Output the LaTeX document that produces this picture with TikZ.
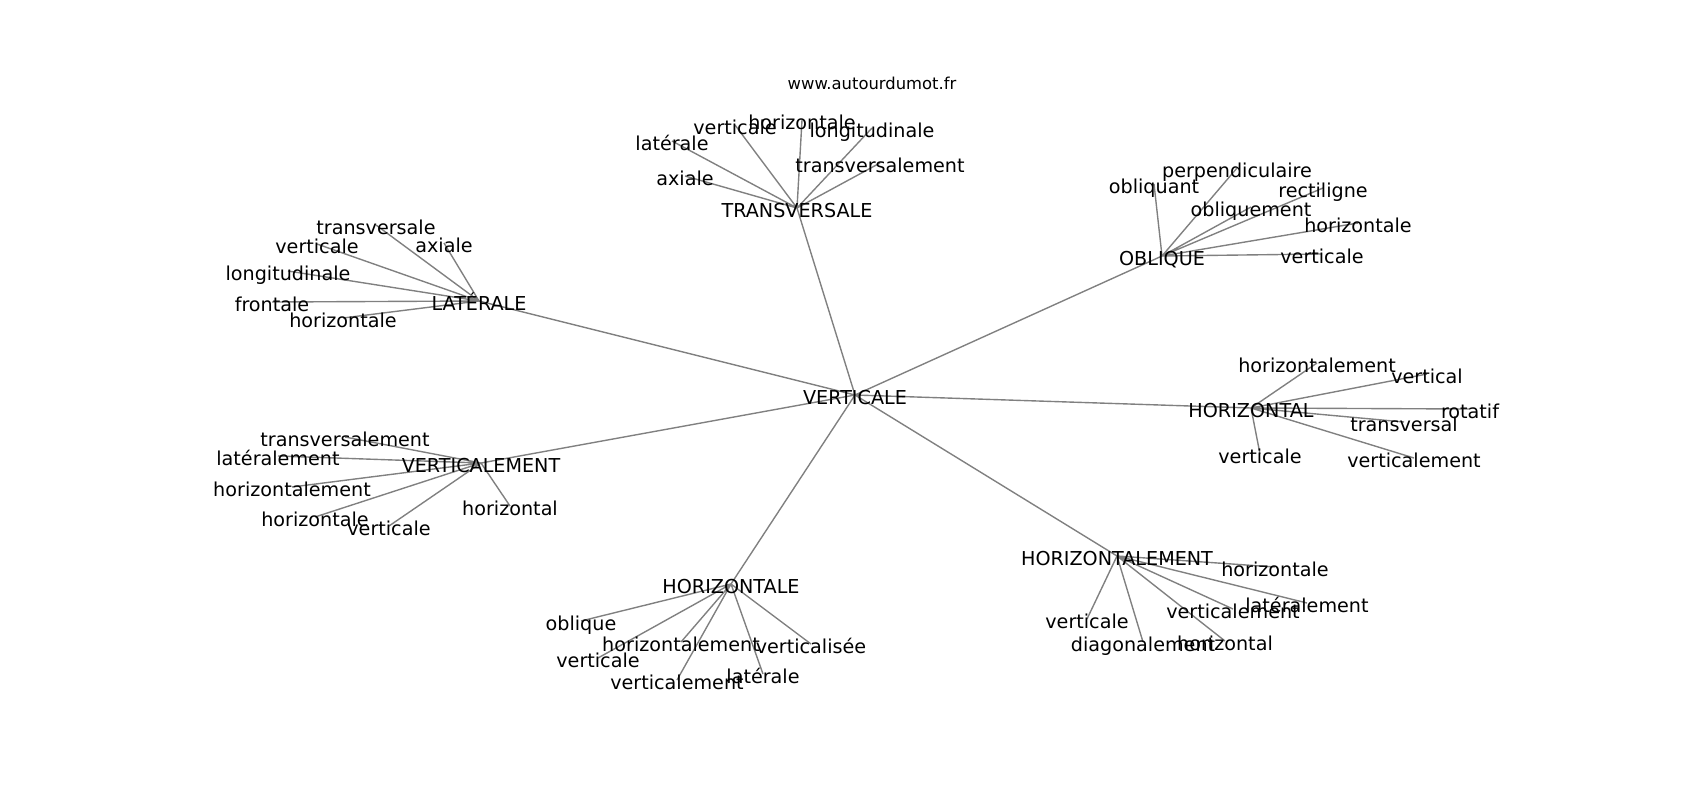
\documentclass[tikz,border=0pt]{standalone}
\usepackage{fontspec}
\setmainfont{DejaVu Sans}
\usetikzlibrary{backgrounds}

\begin{document}
\begin{tikzpicture}[x=0.72pt,y=-0.72pt,
    word/.style={inner sep=0pt,text height=1.3em,text depth=0pt,font=\fontsize{13.8}{16}\selectfont},
    link/.style={draw=gray,line width=1pt}]
\useasboundingbox (0,0) rectangle (1700,800);
\node (site) at (872,83) [inner sep=0pt,font=\fontsize{11.8}{14}\selectfont] {www.autourdumot.fr};
% hubs
\node[word] (v) at (855,395) {VERTICALE};
\node[word] (tr) at (797,208) {TRANSVERSALE};
\node[word] (lat) at (479,301) {LATÉRALE};
\node[word] (obl) at (1162,256) {OBLIQUE};
\node[word] (hzl) at (1251,408) {HORIZONTAL};
\node[word] (vtm) at (481,463) {VERTICALEMENT};
\node[word] (hze) at (731,584) {HORIZONTALE};
\node[word] (hzm) at (1117,556) {HORIZONTALEMENT};
% TRANSVERSALE
\node[word] (tr1) at (735,125) {verticale};
\node[word] (tr2) at (802,120) {horizontale};
\node[word] (tr3) at (872,128) {longitudinale};
\node[word] (tr4) at (672,141) {latérale};
\node[word] (tr5) at (685,176) {axiale};
\node[word] (tr6) at (880,163) {transversalement};
% LATÉRALE
\node[word] (lat1) at (376,225) {transversale};
\node[word] (lat2) at (317,244) {verticale};
\node[word] (lat3) at (444,243) {axiale};
\node[word] (lat4) at (288,271) {longitudinale};
\node[word] (lat5) at (272,302) {frontale};
\node[word] (lat6) at (343,318) {horizontale};
% OBLIQUE
\node[word] (obl1) at (1237,168) {perpendiculaire};
\node[word] (obl2) at (1154,184) {obliquant};
\node[word] (obl3) at (1251,207) {obliquement};
\node[word] (obl4) at (1323,188) {rectiligne};
\node[word] (obl5) at (1358,223) {horizontale};
\node[word] (obl6) at (1322,254) {verticale};
% HORIZONTAL
\node[word] (hzl1) at (1317,363) {horizontalement};
\node[word] (hzl2) at (1427,374) {vertical};
\node[word] (hzl3) at (1470,409) {rotatif};
\node[word] (hzl4) at (1404,422) {transversal};
\node[word] (hzl5) at (1260,454) {verticale};
\node[word] (hzl6) at (1414,458) {verticalement};
% VERTICALEMENT
\node[word] (vtm1) at (345,437) {transversalement};
\node[word] (vtm2) at (278,456) {latéralement};
\node[word] (vtm3) at (292,487) {horizontalement};
\node[word] (vtm4) at (510,506) {horizontal};
\node[word] (vtm5) at (315,517) {horizontale};
\node[word] (vtm6) at (389,526) {verticale};
% HORIZONTALE
\node[word] (hze1) at (581,621) {oblique};
\node[word] (hze2) at (681,642) {horizontalement};
\node[word] (hze3) at (811,644) {verticalisée};
\node[word] (hze4) at (598,658) {verticale};
\node[word] (hze5) at (763,674) {latérale};
\node[word] (hze6) at (677,680) {verticalement};
% HORIZONTALEMENT
\node[word] (hzm1) at (1275,567) {horizontale};
\node[word] (hzm2) at (1307,603) {latéralement};
\node[word] (hzm3) at (1233,609) {verticalement};
\node[word] (hzm4) at (1087,619) {verticale};
\node[word] (hzm5) at (1143,642) {diagonalement};
\node[word] (hzm6) at (1225,641) {horizontal};
\begin{pgfonlayer}{background}
\draw[link]
    (v.center) -- (tr.center) (v.center) -- (lat.center) (v.center) -- (obl.center)
    (v.center) -- (hzl.center) (v.center) -- (vtm.center) (v.center) -- (hze.center)
    (v.center) -- (hzm.center)
    (tr.center) -- (tr1.center) (tr.center) -- (tr2.center) (tr.center) -- (tr3.center)
    (tr.center) -- (tr4.center) (tr.center) -- (tr5.center) (tr.center) -- (tr6.center)
    (lat.center) -- (lat1.center) (lat.center) -- (lat2.center) (lat.center) -- (lat3.center)
    (lat.center) -- (lat4.center) (lat.center) -- (lat5.center) (lat.center) -- (lat6.center)
    (obl.center) -- (obl1.center) (obl.center) -- (obl2.center) (obl.center) -- (obl3.center)
    (obl.center) -- (obl4.center) (obl.center) -- (obl5.center) (obl.center) -- (obl6.center)
    (hzl.center) -- (hzl1.center) (hzl.center) -- (hzl2.center) (hzl.center) -- (hzl3.center)
    (hzl.center) -- (hzl4.center) (hzl.center) -- (hzl5.center) (hzl.center) -- (hzl6.center)
    (vtm.center) -- (vtm1.center) (vtm.center) -- (vtm2.center) (vtm.center) -- (vtm3.center)
    (vtm.center) -- (vtm4.center) (vtm.center) -- (vtm5.center) (vtm.center) -- (vtm6.center)
    (hze.center) -- (hze1.center) (hze.center) -- (hze2.center) (hze.center) -- (hze3.center)
    (hze.center) -- (hze4.center) (hze.center) -- (hze5.center) (hze.center) -- (hze6.center)
    (hzm.center) -- (hzm1.center) (hzm.center) -- (hzm2.center) (hzm.center) -- (hzm3.center)
    (hzm.center) -- (hzm4.center) (hzm.center) -- (hzm5.center) (hzm.center) -- (hzm6.center);
\end{pgfonlayer}
\end{tikzpicture}
\end{document}
